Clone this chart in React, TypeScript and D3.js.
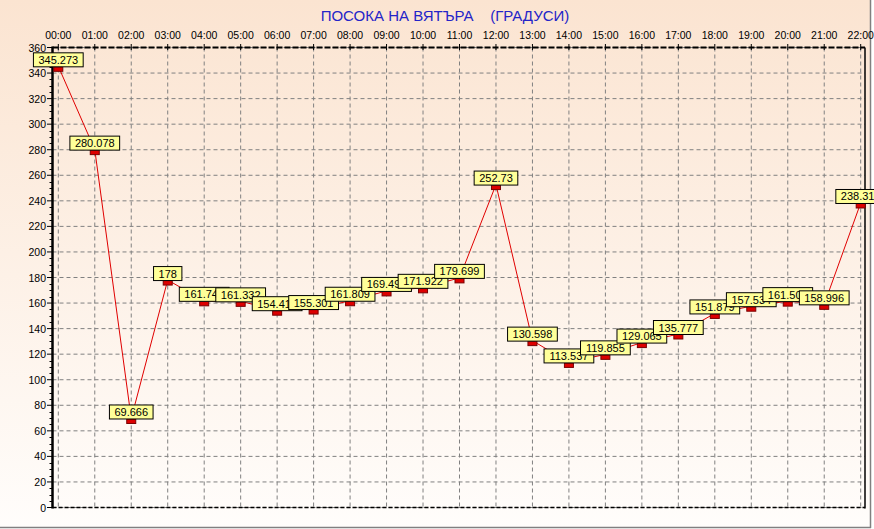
import React from 'react';
import * as d3 from 'd3';

const hours = ['00:00','01:00','02:00','03:00','04:00','05:00','06:00','07:00','08:00','09:00','10:00','11:00','12:00','13:00','14:00','15:00','16:00','17:00','18:00','19:00','20:00','21:00','22:00'];
const directions = [345.273, 280.078, 69.666, 178, 161.743, 161.332, 154.412, 155.301, 161.809, 169.495, 171.922, 179.699, 252.73, 130.598, 113.537, 119.855, 129.065, 135.777, 151.879, 157.534, 161.507, 158.996, 238.316];
const yTicks = d3.range(0, 361, 20);
const yMinorTicks = d3.range(0, 361, 5).filter((v) => v % 20 !== 0);
const title = 'ПОСОКА НА ВЯТЪРА    (ГРАДУСИ)';

const W = 874;
const H = 529;
const FONT = '"Liberation Sans", Arial, sans-serif';

function textWidth(s: string, fs: number) {
  let w = 0;
  for (const c of s) w += c === '.' ? 0.278 * fs : 0.556 * fs;
  return w;
}

export default function App() {
  const left = 52.5, right = 865, top = 47.5, bottom = 507.5;
  const x = d3.scalePoint<string>().domain(hours).range([58.3, 860.7]);
  const y = d3.scaleLinear().domain([0, 360]).range([bottom, top]);
  const line = d3.line<number>().x((_, i) => x(hours[i])!).y((d) => y(d));

  const boxes = directions.map((v, i) => {
    const label = String(v);
    const w = textWidth(label, 11) + 10;
    const px = x(hours[i])!;
    const py = y(v);
    return { label, w, h: 14, x0: px - w / 2, y0: py + 0.5 - 14, px, py };
  });

  return (
    <svg width={W} height={H} style={{ position: 'absolute', left: 0, top: 0 }} fontFamily={FONT}>
      <defs>
        <linearGradient id="bg" x1="0" y1="0" x2="0" y2="1">
          <stop offset="0" stopColor="#FBE4D1" />
          <stop offset="1" stopColor="#FFFDFB" />
        </linearGradient>
      </defs>
      <rect x={0} y={0} width={W} height={H} fill="#ffffff" />
      <rect x={0} y={0} width={870} height={527} fill="url(#bg)" />
      <line x1={870.5} y1={0} x2={870.5} y2={528} stroke="#808080" strokeWidth={1.5} />
      <line x1={0} y1={527.5} x2={871} y2={527.5} stroke="#808080" strokeWidth={1.5} />

      <text x={445} y={21} textAnchor="middle" fontSize={15} fill="#2424C8" style={{ whiteSpace: 'pre' }}>{title}</text>

      {/* grid */}
      {yTicks.map((t) => (
        <line key={'gy' + t} x1={left} x2={right} y1={y(t)} y2={y(t)} stroke="#808080" strokeDasharray="4,3" strokeWidth={1} />
      ))}
      {hours.map((h) => (
        <line key={'gx' + h} x1={x(h)} x2={x(h)} y1={top} y2={bottom} stroke="#808080" strokeDasharray="4,3" strokeWidth={1} />
      ))}

      {/* axes */}
      <line x1={left} x2={right} y1={top} y2={top} stroke="#000" strokeWidth={2} strokeDasharray="6,2" />
      <line x1={left} x2={right} y1={bottom} y2={bottom} stroke="#000" strokeWidth={1.5} strokeDasharray="4,2" />
      <line x1={right} x2={right} y1={top} y2={bottom + 1} stroke="#000" strokeWidth={1.5} />
      <line x1={left} x2={left} y1={top - 1} y2={bottom + 1} stroke="#000" strokeWidth={2.5} />
      {hours.map((h) => (
        <line key={'tx' + h} x1={x(h)} x2={x(h)} y1={44} y2={50} stroke="#000" strokeWidth={1} />
      ))}
      {yTicks.map((t) => (
        <line key={'ty' + t} x1={47} x2={left} y1={y(t)} y2={y(t)} stroke="#000" strokeWidth={1} />
      ))}
      {yMinorTicks.map((t) => (
        <line key={'tm' + t} x1={49.5} x2={left} y1={Math.round(y(t)) + 0.5} y2={Math.round(y(t)) + 0.5} stroke="#000" strokeWidth={1} />
      ))}
      {yTicks.map((t) => (
        <text key={'ly' + t} x={46} y={y(t) + 4} textAnchor="end" fontSize={10.5} fill="#000">{t}</text>
      ))}
      {hours.map((h) => (
        <text key={'lx' + h} x={x(h)} y={38.5} textAnchor="middle" fontSize={10.5} fill="#000">{h}</text>
      ))}

      {/* line */}
      <path d={line(directions) || ''} fill="none" stroke="#E00000" strokeWidth={1} />
      {boxes.map((b, i) => (
        <rect key={'m' + i} x={b.px - 4.5} y={b.py + 0.5} width={9} height={4.5} fill="#DD0000" stroke="#7A0000" strokeWidth={1} />
      ))}

      {/* labels */}
      {boxes.map((b, i) => (
        <g key={'b' + i}>
          <rect x={b.x0} y={b.y0} width={b.w} height={b.h} fill="#FFFF99" stroke="#000" strokeWidth={1} />
          <text x={b.px} y={b.y0 + b.h - 3} textAnchor="middle" fontSize={11} fill="#000">{b.label}</text>
        </g>
      ))}
    </svg>
  );
}
